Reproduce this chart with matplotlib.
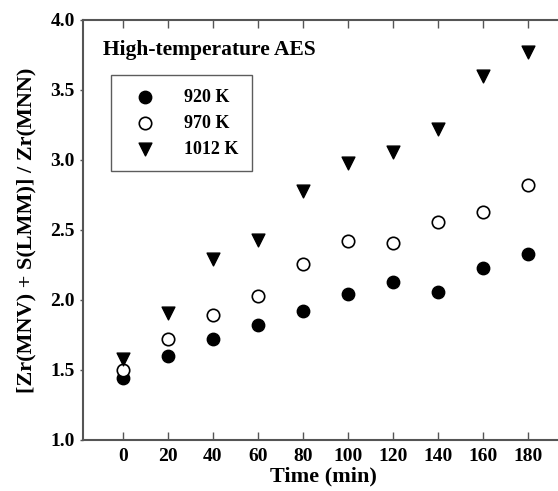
import numpy as np
import matplotlib
matplotlib.use('Agg')
from matplotlib import pyplot as plt

time_min = [0, 20, 40, 60, 80, 100, 120, 140, 160, 180]
ratio_920 = [1.44, 1.60, 1.72, 1.82, 1.92, 2.04, 2.13, 2.06, 2.23, 2.33]
ratio_970 = [1.50, 1.72, 1.89, 2.03, 2.26, 2.42, 2.41, 2.56, 2.63, 2.82]
ratio_1012 = [1.58, 1.91, 2.29, 2.43, 2.78, 2.98, 3.06, 3.22, 3.60, 3.77]
x_ticks = [0, 20, 40, 60, 80, 100, 120, 140, 160, 180]
y_ticks = [1.0, 1.5, 2.0, 2.5, 3.0, 3.5, 4.0]

plt.rcParams['font.family'] = ['Liberation Serif', 'DejaVu Serif']
plt.rcParams['font.weight'] = 'bold'

fig = plt.figure(figsize=(5.58, 4.91), dpi=100)
ax = fig.add_axes([83 / 558, 51 / 491, 1 - 83 / 558 + 0.01, 420 / 491])

ax.scatter(time_min, ratio_920, s=80, marker='o', color='black', label='920 K', zorder=3)
ax.scatter(time_min, ratio_970, s=80, marker='o', facecolor='white', edgecolor='black',
           linewidth=1.2, label='970 K', zorder=3)
ax.scatter(time_min, ratio_1012, s=85, marker='v', color='black', label='1012 K', zorder=3)

ax.set_xlim(-17.8, 196)
ax.set_ylim(1.0, 4.0)
ax.set_xticks(x_ticks)
ax.set_yticks(y_ticks)
ax.set_yticklabels(['%.1f' % v for v in y_ticks])

for side in ['left', 'bottom', 'top']:
    ax.spines[side].set_color('#555555')
    ax.spines[side].set_linewidth(1.5)
ax.spines['right'].set_visible(False)

ax.tick_params(axis='x', direction='in', top=True, length=6, width=1, color='#555555',
               labelsize=14, pad=6)
ax.tick_params(axis='y', direction='out', length=2, width=1, color='#555555',
               labelsize=14, pad=4)
for lbl in ax.get_xticklabels() + ax.get_yticklabels():
    lbl.set_fontweight('bold')

ax.set_xlabel('Time (min)', fontsize=16, fontweight='bold', labelpad=1)
ax.set_ylabel('[Zr(MNV) + S(LMM)] / Zr(MNN)', fontsize=16, fontweight='bold', labelpad=10)

ax.text(0.042, 0.929, 'High-temperature AES', transform=ax.transAxes, fontsize=15.5,
        fontweight='bold', va='center', ha='left')

leg = ax.legend(loc='upper left', bbox_to_anchor=(0.058, 0.869), borderaxespad=0,
                frameon=True, fancybox=False, edgecolor='#333333', handletextpad=1.0,
                handlelength=2.3, borderpad=0.75, labelspacing=0.5,
                prop={'weight': 'bold', 'size': 13})
leg.get_frame().set_linewidth(1.0)

fig.savefig('out.png', dpi=100)
